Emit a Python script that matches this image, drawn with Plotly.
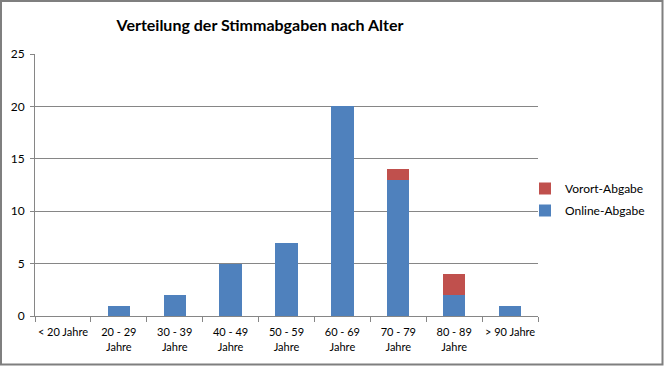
import plotly.graph_objects as go

categories = ["< 20 Jahre", "20 - 29<br>Jahre", "30 - 39<br>Jahre", "40 - 49<br>Jahre",
              "50 - 59<br>Jahre", "60 - 69<br>Jahre", "70 - 79<br>Jahre", "80 - 89<br>Jahre",
              "> 90 Jahre"]
online = [0, 1, 2, 5, 7, 20, 13, 2, 1]
vorort = [0, 0, 0, 0, 0, 0, 1, 2, 0]
y_ticks = [0, 5, 10, 15, 20, 25]

W, H = 664, 366
L, R, T, B = 35, 126, 54, 50

fig = go.Figure()
fig.add_trace(go.Bar(x=categories, y=online, name="Online-Abgabe", marker_color="#4F81BD",
                     marker_line_width=0, width=0.4, legendgroup="online", legendrank=2))
fig.add_trace(go.Bar(x=categories, y=vorort, name="Vorort-Abgabe", marker_color="#C0504D",
                     marker_line_width=0, width=0.4, legendgroup="vorort", legendrank=1))

pw = W - L - R
ph = H - T - B
fig.add_shape(type="rect", xref="paper", yref="paper",
              x0=(-L + 1) / pw, x1=1 + (R - 1.5) / pw,
              y0=(-B + 1.5) / ph, y1=1 + (T - 1) / ph,
              line=dict(color="#7f7f7f", width=2), fillcolor="rgba(0,0,0,0)", layer="above")

tickfam = "Lato, sans-serif"
fig.update_layout(
    width=W, height=H,
    margin=dict(l=L, r=R, t=T, b=B, pad=0),
    barmode="stack",
    bargap=0.6,
    paper_bgcolor="white", plot_bgcolor="white",
    font=dict(family="Lato, Open Sans, sans-serif", size=12, color="#000000"),
    title=dict(text="<b>Verteilung der Stimmabgaben nach Alter</b>", x=260 / W, xanchor="center",
               y=1 - 25 / H, yanchor="middle", font=dict(size=16, color="#000000")),
    xaxis=dict(showline=True, linecolor="#868686", linewidth=1, ticks="outside", tickson="boundaries",
               tickcolor="#868686", ticklen=5, showgrid=False, tickangle=0, automargin=False,
               tickfont=dict(size=11, family=tickfam), ticklabelstandoff=6),
    yaxis=dict(range=[0, 25], tickvals=y_ticks, showline=True, linecolor="#868686", linewidth=1,
               ticks="outside", tickcolor="#868686", ticklen=4, gridcolor="#868686", gridwidth=1,
               zeroline=False, automargin=False, tickfont=dict(size=12, family=tickfam),
               ticklabelstandoff=3),
    legend=dict(x=(525 - L) / pw, y=1 - (174 - T) / ph, xanchor="left", yanchor="top",
                traceorder="grouped", font=dict(size=12), itemwidth=30, tracegroupgap=3,
                bgcolor="rgba(0,0,0,0)"),
)

fig.write_html("out.html", config={"displayModeBar": False},
               post_script="document.body.style.margin='0';document.body.style.overflow='hidden';")
